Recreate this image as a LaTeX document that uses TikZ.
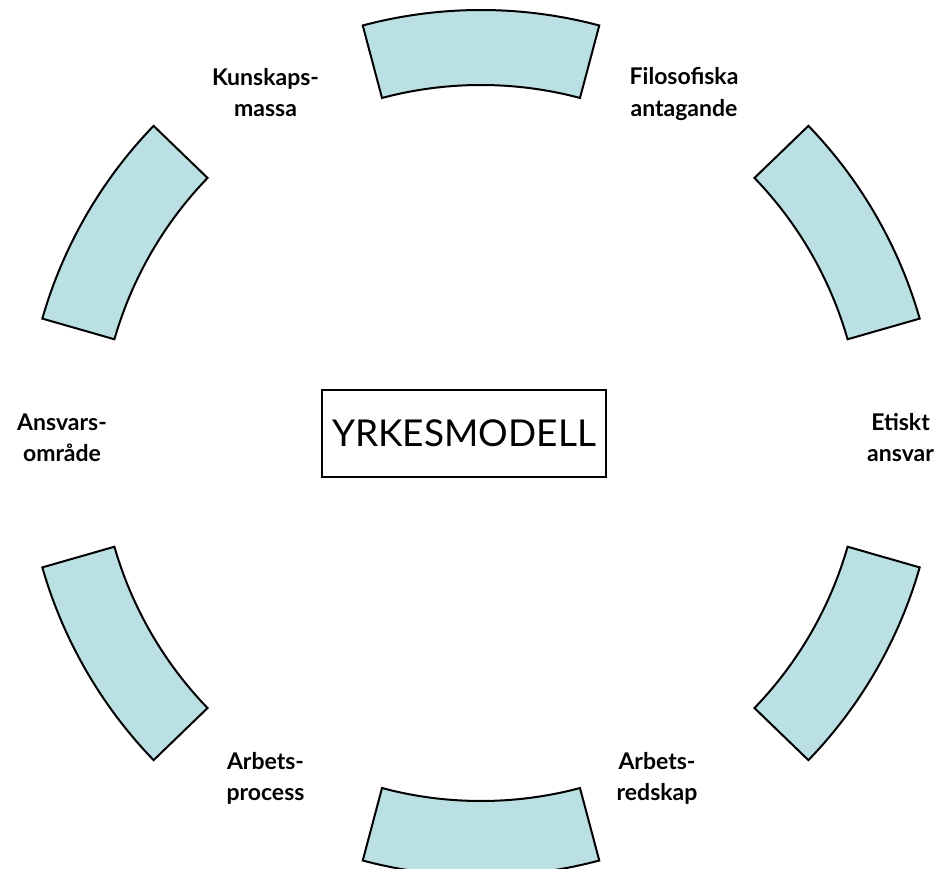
\documentclass[tikz,border=0pt]{standalone}
\usepackage{fontspec}
\setmainfont{Lato}
\definecolor{arcfill}{RGB}{187,224,227}
\begin{document}
\begin{tikzpicture}[x=1pt,y=1pt,
    sectorblock/.style={draw=black,line width=2pt,fill=arcfill,line join=miter},
    label/.style={font=\fontsize{23}{31.5}\selectfont\bfseries,align=center},
    titlebox/.style={draw=black,line width=1.5pt,font=\fontsize{37}{44}\selectfont,
                     minimum width=284pt,minimum height=87pt}]
\useasboundingbox (0,0) rectangle (939,868);
% the six blocks round the ring
\foreach \cx/\cy/\mid/\hw in {481/398/90/14.9, 477.5/422.6/30/14, 477.5/427.4/330/14,
                               481/452/270/14.9, 484.5/427.4/210/14, 484.5/422.6/150/14}
  \draw[sectorblock,shift={(\cx,\cy)}] (\mid-\hw:460pt)
      arc[start angle=\mid-\hw,end angle=\mid+\hw,radius=460pt] -- (\mid+\hw:385pt)
      arc[start angle=\mid+\hw,end angle=\mid-\hw,radius=385pt] -- cycle;
% centre box
\node[titlebox] (yrkes) at (464,434.5) {YRKESMODELL};
% labels between the blocks
\node[label] (kunskap) at (265.5,773.4) {\strut Kunskaps-\\\strut massa};
\node[label] (filosofi) at (684,773.8) {\strut Filosofiska\\\strut antagande};
\node[label] (ansvar) at (62,428.3) {\strut Ansvars-\\\strut område};
\node[label] (etiskt) at (900.5,428.3) {\strut Etiskt\\\strut ansvar};
\node[label] (process) at (265.5,89.3) {\strut Arbets-\\\strut process};
\node[label] (redskap) at (657,89.3) {\strut Arbets-\\\strut redskap};
\end{tikzpicture}
\end{document}
